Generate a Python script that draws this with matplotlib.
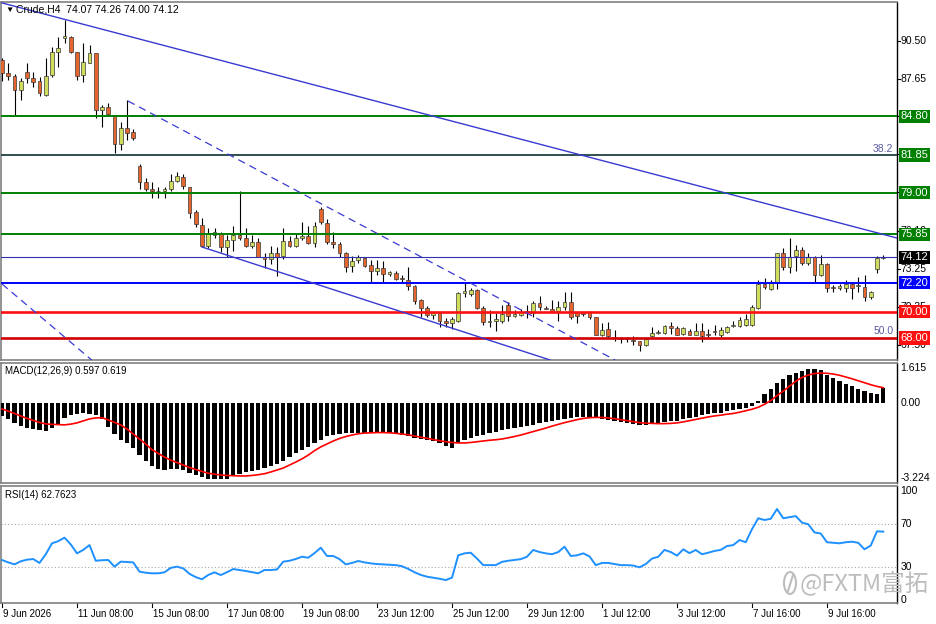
import numpy as np
import matplotlib
matplotlib.use("Agg")
from matplotlib import pyplot as plt
from matplotlib import transforms
from matplotlib.patches import Ellipse
from matplotlib.lines import Line2D

plt.rcParams['font.family'] = ['Liberation Sans', 'DejaVu Sans']

# ---- Crude, H4 candles ----
opens = [89.06, 88.1, 87.85, 86.79, 88.15, 87.7, 87.5, 86.4, 87.9, 89.7,
         90.75, 90.8, 89.67, 87.92, 88.83, 89.6, 85.3, 85.5, 84.9, 82.7,
         83.9, 83.6, 81.05, 79.85, 79.3, 79.15, 79.1, 79.3, 79.9, 80.2,
         79.4, 77.55, 76.56, 75.0, 75.8, 75.9, 74.9, 75.4, 75.8, 75.6,
         74.95, 75.3, 74.1, 73.95, 74.4, 74.2, 75.35, 75.0, 75.6, 75.75,
         75.2, 77.8, 76.7, 75.3, 75.1, 74.45, 73.45, 73.9, 74.05, 73.5,
         73.1, 73.3, 72.85, 72.9, 72.55, 72.4, 71.9, 70.85, 70.3, 69.75,
         69.9, 69.3, 69.1, 69.3, 71.4, 71.3, 71.65, 70.3, 69.2, 69.3,
         69.3, 70.5, 69.7, 69.77, 69.95, 69.9, 70.65, 70.3, 70.2, 70.05,
         70.35, 70.75, 69.95, 69.95, 69.95, 69.6, 68.25, 68.7, 68.1, 68.0,
         67.9, 67.85, 67.75, 67.45, 68.15, 68.4, 68.4, 68.9, 68.75, 68.3,
         68.55, 68.25, 68.55, 68.3, 68.5, 68.25, 68.45, 68.9, 68.9, 69.0,
         69.0, 70.3, 72.05, 71.7, 72.17, 74.4, 73.35, 74.2, 74.7, 73.7,
         74.1, 72.75, 73.6, 71.85, 71.75, 71.8, 72.1, 71.95, 71.85, 71.1,
         73.25, 74.07]
highs = [89.2, 88.8, 88.0, 87.7, 88.8, 88.15, 87.8, 89.2, 90.05, 90.8,
         92.1, 90.9, 89.67, 90.35, 90.2, 89.6, 85.65, 85.8, 84.9, 84.36,
         86.0, 83.85, 81.2, 80.1, 79.8, 79.4, 79.4, 80.4, 80.6, 80.4,
         79.4, 77.7, 77.1, 76.3, 76.3, 76.0, 75.8, 76.5, 79.1, 76.3,
         75.8, 75.6, 74.4, 75.0, 74.9, 76.3, 75.7, 75.9, 76.8, 76.5,
         76.8, 77.9, 77.0, 76.0, 75.3, 74.5, 74.2, 74.3, 74.15, 73.9,
         73.9, 73.8, 73.1, 73.05, 72.8, 73.4, 72.0, 70.95, 70.4, 69.95,
         69.97, 69.5, 69.6, 71.5, 72.25, 71.75, 71.7, 70.4, 70.1, 69.9,
         70.5, 70.7, 70.15, 70.2, 70.5, 70.8, 71.2, 70.4, 70.9, 70.8,
         71.5, 71.5, 69.95, 70.0, 70.05, 69.6, 69.1, 69.2, 68.6, 68.1,
         68.05, 68.15, 67.8, 68.1, 68.8, 68.6, 69.0, 69.2, 68.9, 68.85,
         68.7, 69.1, 69.1, 68.7, 69.0, 68.8, 68.9, 69.3, 69.6, 69.8,
         70.5, 72.4, 72.55, 72.4, 74.45, 74.85, 75.6, 75.05, 74.9, 74.4,
         74.2, 74.3, 73.7, 72.0, 72.1, 72.4, 72.25, 72.6, 72.8, 71.55,
         74.2, 74.26]
lows = [87.5, 87.55, 84.9, 86.0, 87.3, 87.0, 86.3, 86.3, 87.8, 88.5,
        90.35, 89.6, 87.55, 87.4, 88.8, 84.67, 84.0, 84.9, 82.0, 82.24,
        83.0, 83.0, 79.3, 79.1, 78.6, 78.6, 78.6, 79.1, 79.85, 79.3,
        77.1, 76.4, 74.9, 74.8, 75.6, 74.5, 74.1, 74.6, 75.4, 74.9,
        74.8, 74.1, 73.3, 73.6, 72.7, 74.0, 74.9, 74.9, 75.4, 75.1,
        74.9, 76.6, 75.1, 74.8, 74.1, 73.0, 73.0, 73.7, 73.4, 72.2,
        72.8, 72.15, 72.7, 72.4, 72.2, 71.6, 70.6, 69.6, 69.6, 69.4,
        68.85, 68.85, 68.7, 69.2, 71.1, 71.2, 70.2, 69.0, 68.85, 68.5,
        69.1, 69.25, 69.6, 69.7, 69.5, 69.6, 70.1, 70.2, 69.95, 69.3,
        70.1, 69.45, 69.1, 69.7, 69.4, 68.2, 68.15, 68.0, 67.75, 67.6,
        67.7, 67.5, 67.0, 67.4, 68.1, 68.3, 68.3, 68.3, 68.2, 68.2,
        68.2, 68.2, 67.7, 68.1, 68.2, 68.1, 68.4, 68.8, 68.8, 68.9,
        68.9, 70.2, 71.7, 71.6, 71.7, 73.15, 72.95, 73.1, 73.5, 73.5,
        72.2, 72.7, 71.5, 71.5, 71.6, 71.5, 70.95, 71.5, 70.8, 70.95,
        72.95, 74.0]
closes = [88.07, 87.85, 86.79, 87.47, 87.7, 87.4, 86.56, 87.85, 89.7, 89.97,
          90.9, 89.67, 87.85, 88.9, 89.6, 85.27, 85.5, 84.95, 82.7, 83.9,
          83.5, 83.15, 79.85, 79.3, 79.1, 79.1, 79.3, 79.9, 80.3, 79.5,
          77.5, 76.6, 75.0, 75.95, 76.0, 74.9, 75.4, 75.8, 75.55, 75.0,
          75.3, 74.1, 73.95, 74.4, 74.1, 75.35, 75.0, 75.6, 75.75, 75.2,
          76.5, 76.8, 75.3, 75.1, 74.45, 73.4, 73.8, 74.1, 73.45, 73.1,
          73.3, 72.85, 73.0, 72.5, 72.45, 71.9, 70.8, 70.3, 69.75, 69.9,
          69.3, 69.1, 69.45, 71.4, 71.55, 71.65, 70.3, 69.2, 69.3, 69.4,
          69.85, 69.7, 69.85, 69.97, 70.05, 70.65, 70.35, 70.2, 70.0, 70.35,
          70.7, 69.6, 69.65, 69.8, 69.6, 68.25, 68.6, 68.15, 68.05, 67.9,
          68.0, 67.75, 67.45, 67.9, 68.4, 68.45, 68.9, 68.75, 68.25, 68.75,
          68.25, 68.55, 68.15, 68.25, 68.45, 68.6, 68.85, 68.95, 69.35, 69.4,
          70.35, 72.05, 71.85, 72.17, 74.4, 73.35, 74.1, 74.7, 73.7, 74.1,
          72.8, 73.6, 71.8, 71.8, 71.9, 72.1, 71.8, 72.0, 71.1, 71.45,
          74.07, 74.12]

# ---- MACD(12,26,9) ----
macd_hist = [-0.52, -0.66, -0.80, -0.92, -1.00, -1.04, -1.08, -1.12, -1.00, -0.83,
             -0.60, -0.50, -0.45, -0.42, -0.43, -0.50, -0.65, -0.95, -1.25, -1.50,
             -1.62, -1.80, -2.10, -2.35, -2.55, -2.66, -2.70, -2.65, -2.64, -2.70,
             -2.82, -2.92, -3.00, -3.05, -3.08, -3.08, -3.05, -2.95, -2.85, -2.78,
             -2.72, -2.68, -2.62, -2.53, -2.45, -2.33, -2.18, -2.03, -1.90, -1.76,
             -1.62, -1.48, -1.34, -1.27, -1.23, -1.21, -1.21, -1.21, -1.20, -1.18,
             -1.17, -1.19, -1.21, -1.23, -1.27, -1.33, -1.39, -1.45, -1.50, -1.55,
             -1.63, -1.72, -1.80, -1.62, -1.50, -1.40, -1.33, -1.27, -1.21, -1.15,
             -1.10, -1.06, -1.01, -0.96, -0.92, -0.87, -0.82, -0.78, -0.73, -0.68,
             -0.63, -0.59, -0.57, -0.57, -0.57, -0.59, -0.63, -0.68, -0.73, -0.78,
             -0.81, -0.83, -0.88, -0.89, -0.86, -0.82, -0.78, -0.74, -0.71, -0.64,
             -0.59, -0.56, -0.50, -0.46, -0.42, -0.39, -0.34, -0.30, -0.25, -0.20,
             -0.12, 0.10, 0.38, 0.57, 0.80, 0.98, 1.13, 1.23, 1.30, 1.36,
             1.39, 1.32, 1.15, 1.02, 0.87, 0.77, 0.68, 0.58, 0.48, 0.42,
             0.38, 0.597]
macd_signal = [-0.24, -0.33, -0.42, -0.52, -0.62, -0.70, -0.78, -0.84, -0.86, -0.87,
               -0.88, -0.85, -0.80, -0.72, -0.64, -0.60, -0.59, -0.68, -0.78, -0.88,
               -1.05, -1.25, -1.45, -1.65, -1.88, -2.03, -2.18, -2.30, -2.40, -2.50,
               -2.60, -2.68, -2.76, -2.83, -2.87, -2.90, -2.92, -2.93, -2.94, -2.94,
               -2.92, -2.89, -2.85, -2.78, -2.70, -2.62, -2.50, -2.38, -2.25, -2.10,
               -1.92, -1.77, -1.65, -1.53, -1.43, -1.35, -1.29, -1.24, -1.21, -1.20,
               -1.19, -1.19, -1.20, -1.22, -1.25, -1.28, -1.33, -1.38, -1.42, -1.47,
               -1.52, -1.56, -1.59, -1.61, -1.61, -1.59, -1.56, -1.53, -1.50, -1.48,
               -1.45, -1.40, -1.35, -1.29, -1.22, -1.15, -1.08, -1.01, -0.93, -0.86,
               -0.79, -0.73, -0.67, -0.62, -0.59, -0.58, -0.58, -0.60, -0.63, -0.67,
               -0.71, -0.75, -0.79, -0.81, -0.82, -0.83, -0.83, -0.82, -0.80, -0.76,
               -0.71, -0.66, -0.61, -0.56, -0.52, -0.49, -0.45, -0.42, -0.37, -0.31,
               -0.25, -0.17, -0.05, 0.10, 0.30, 0.48, 0.68, 0.88, 1.03, 1.13,
               1.19, 1.21, 1.20, 1.17, 1.12, 1.05, 0.98, 0.90, 0.82, 0.74,
               0.67, 0.619]

# ---- RSI(14) ----
rsi = [36.7, 34.5, 32.7, 35.5, 37.0, 37.6, 34.0, 42.0, 52.0, 54.0,
       57.2, 51.0, 42.8, 46.0, 50.4, 36.0, 36.5, 36.7, 30.6, 35.2,
       34.8, 34.5, 26.0, 25.0, 24.5, 24.5, 25.4, 29.5, 30.6, 29.0,
       24.0, 21.0, 19.0, 23.0, 25.4, 22.9, 25.5, 28.4, 27.5, 26.6,
       25.5, 24.5, 27.5, 27.5, 28.0, 35.2, 36.0, 37.6, 39.7, 38.8,
       43.0, 48.0, 40.4, 40.4, 37.5, 32.7, 34.0, 35.8, 34.5, 33.6,
       33.0, 32.7, 32.4, 32.0, 31.0, 28.5, 25.5, 23.0, 21.4, 20.5,
       19.5, 18.3, 20.5, 41.0, 42.8, 43.4, 38.0, 32.0, 32.0, 32.0,
       35.0, 36.0, 36.7, 37.5, 39.7, 45.9, 44.0, 42.8, 42.0, 44.0,
       48.9, 40.4, 41.0, 42.8, 40.0, 32.0, 34.0, 34.0, 33.0, 32.0,
       32.0, 31.6, 30.0, 33.0, 38.0, 39.7, 46.0, 44.0, 40.7, 46.5,
       43.0, 45.9, 42.0, 43.4, 45.0, 46.0, 49.5, 50.4, 55.0, 53.0,
       65.0, 75.0, 73.4, 74.5, 83.5, 75.0, 76.0, 77.0, 71.0, 69.5,
       62.0, 61.0, 53.0, 52.5, 52.0, 53.0, 53.5, 52.5, 46.5, 50.0,
       63.0, 62.76]

date_labels = ['9 Jun 2026', '11 Jun 08:00', '15 Jun 08:00', '17 Jun 08:00',
               '19 Jun 08:00', '23 Jun 12:00', '25 Jun 12:00', '29 Jun 12:00',
               '1 Jul 12:00', '3 Jul 12:00', '7 Jul 16:00', '9 Jul 16:00']
label_step = 12

# horizontal levels: price, line colour, label colour
levels = [(84.80, '#008000', '#008000'), (81.85, '#2f4f4f', '#008000'),
          (79.00, '#008000', '#008000'), (75.85, '#008000', '#008000'),
          (72.20, '#0000ff', '#0000ff'), (70.00, '#ff1010', '#ff1010'),
          (68.00, '#d00000', '#ff1010')]
bid = 74.12
# price scale ticks (the ones under the level boxes are hidden there)
price_ticks = [90.50, 87.65, 84.80, 81.95, 79.05, 76.10, 73.25, 70.35, 67.50]
tick_labels = ['90.50', '87.65', '', '', '', '76.10', '73.25', '70.35', '67.50']

# trend lines as (bar, price) anchors
trend_main = ([0, 143.2], [93.38, 75.57])
trend_low = ([32, 87.7], [74.89, 66.33])
trend_dash = ([20.16, 98.1], [85.95, 66.33])
trend_dash_left = ([0, 14.35], [72.09, 66.33])

W, H = 936, 624


def box(x0, y0, x1, y1):
    return [x0 / W, 1 - y1 / H, (x1 - x0) / W, (y1 - y0) / H]


fig = plt.figure(figsize=(W / 100, H / 100), dpi=100)
ax = fig.add_axes(box(1, 2, 897, 360))
am = fig.add_axes(box(1, 363, 897, 483), sharex=ax)
ar = fig.add_axes(box(1, 486, 897, 603), sharex=ax)

n = len(closes)
idx = np.arange(n)
o = np.array(opens)
c = np.array(closes)
up = c >= o

for a in (ax, am, ar):
    for s in a.spines.values():
        s.set_color('#808080')
        s.set_linewidth(1.2)
    a.spines['right'].set_color('black')
    a.spines['right'].set_linewidth(1)
    a.set_yticks([])
    a.tick_params(axis='x', labelbottom=False, length=0)
ax.set_xlim(-0.16, 143.2)

# candles
ax.vlines(idx, lows, highs, color='black', lw=0.8, zorder=3)
lo = np.minimum(o, c)
hgt = np.maximum(np.abs(c - o), 0.04)
ax.bar(idx[up], hgt[up], bottom=lo[up], width=0.62, color='#cfdc5c',
       edgecolor='#3a3a3a', lw=0.5, zorder=4)
ax.bar(idx[~up], hgt[~up], bottom=lo[~up], width=0.62, color='#e5652f',
       edgecolor='#3a3a3a', lw=0.5, zorder=4)
ax.set_ylim(66.33, 93.45)

# levels and trend lines
for p, lc, bc in levels:
    lw = 1.9 if p in (70.0, 68.0) else 1.4
    ax.axhline(p, color=lc, lw=lw, zorder=5)
ax.axhline(bid, color='#3030b0', lw=0.8, zorder=5)
ax.plot(*trend_main, color='#3a3ad0', lw=1.0, zorder=5)
ax.plot(*trend_low, color='#3a3ad0', lw=1.0, zorder=5)
ax.plot(*trend_dash, color='#3a3ad0', lw=0.9, ls=(0, (6, 4)), zorder=5)
ax.plot(*trend_dash_left, color='#3a3ad0', lw=0.9, ls=(0, (6, 4)), zorder=5)

yt = ax.get_yaxis_transform()
ax.text(0.996, 81.85 + 0.12, '38.2', transform=yt, ha='right', va='bottom',
        color='#5a5aa0', fontsize=7.5)
ax.text(0.996, 68.00 + 0.12, '50.0', transform=yt, ha='right', va='bottom',
        color='#5a5aa0', fontsize=7.5)

# right price scale
for p, lab in zip(price_ticks, tick_labels):
    ax.plot([1.0, 1.003], [p, p], transform=yt, color='black', lw=0.8, clip_on=False)
    if lab:
        ax.text(1.004, p, lab, transform=yt, ha='left', va='center',
                fontsize=7.5, clip_on=False, zorder=6)
for p, lc, bc in levels:
    ax.text(1.004, p, f'{p:.2f}', transform=yt, ha='left', va='center',
            fontsize=8, color='white', clip_on=False, zorder=10,
            bbox=dict(boxstyle='square,pad=0.15', fc=bc, ec='none'))
ax.text(1.004, bid, f'{bid:.2f}', transform=yt, ha='left', va='center',
        fontsize=8, color='white', clip_on=False, zorder=10,
        bbox=dict(boxstyle='square,pad=0.15', fc='black', ec='none'))

# MACD
am.bar(idx, macd_hist, width=0.68, color='black', zorder=3)
am.plot(idx, macd_signal, color='#ff0000', lw=1.2, zorder=4)
am.set_ylim(-3.224, 1.615)
mt = am.get_yaxis_transform()
am.text(1.004, 1.615, '1.615', transform=mt, ha='left', va='top', fontsize=7.5)
am.text(1.004, 0.0, '0.00', transform=mt, ha='left', va='center', fontsize=7.5)
am.text(1.004, -3.224, '-3.224', transform=mt, ha='left', va='bottom', fontsize=7.5)
am.text(0.004, 0.93, 'MACD(12,26,9) 0.597 0.619', transform=am.transAxes,
        ha='left', va='center', fontsize=7)

# RSI
ar.plot(idx, rsi, color='#1e90ff', lw=1.4, zorder=4)
for lv in (30, 70):
    ar.axhline(lv, color='#a8a8a8', lw=0.8, ls=(0, (1, 2)), zorder=2)
ar.set_ylim(-2.75, 104.6)
rt = ar.get_yaxis_transform()
for lv in (100, 70, 30, 0):
    ar.text(1.004, lv, str(lv), transform=rt, ha='left', va='center', fontsize=7.5)
ar.text(0.004, 0.92, 'RSI(14) 62.7623', transform=ar.transAxes,
        ha='left', va='center', fontsize=7)

# date axis
bt = transforms.blended_transform_factory(ar.transData, ar.transAxes)
for k, lab in enumerate(date_labels):
    xb = k * label_step
    ar.plot([xb, xb], [0, -0.035], transform=bt, color='black', lw=0.8, clip_on=False)
    ar.text(xb + 0.15, -0.095, lab, transform=bt, ha='left', va='center', fontsize=7)

# header
fig.text(5 / W, 1 - 10 / H, '\u25bc', fontsize=6, va='center', ha='left')
fig.text(16 / W, 1 - 10 / H, 'Crude,H4  74.07 74.26 74.00 74.12', fontsize=7.5,
         va='center', ha='left')

# watermark
fig.add_artist(Ellipse((790 / W, 1 - 583 / H), 12 / W, 22 / H, transform=fig.transFigure,
                       fill=False, ec='#bdbdbd', lw=1.5))
fig.add_artist(Line2D([788 / W, 793 / W], [1 - 591 / H, 1 - 575 / H],
                      transform=fig.transFigure, color='#bdbdbd', lw=1.5))
fig.text(800 / W, 1 - 583 / H, '@FXTM\u5bcc\u62d3', fontsize=17, color='#bdbdbd',
         va='center', ha='left', family=['Noto Sans CJK SC', 'DejaVu Sans'])

fig.savefig('out.png', dpi=100)
